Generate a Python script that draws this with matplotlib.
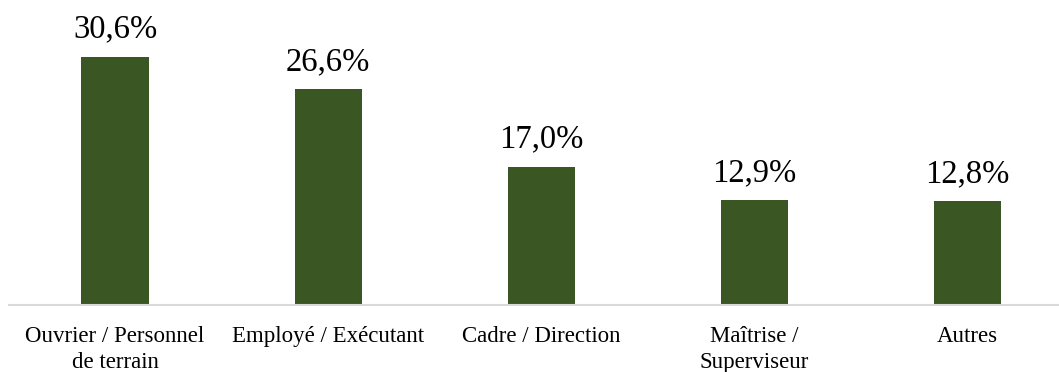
import matplotlib.pyplot as plt

categories = ["Ouvrier / Personnel\nde terrain", "Employé / Exécutant", "Cadre / Direction",
              "Maîtrise /\nSuperviseur", "Autres"]
values = [30.6, 26.6, 17.0, 12.9, 12.8]

plt.rcParams['font.family'] = ['Liberation Serif', 'DejaVu Serif']

fig = plt.figure(figsize=(10.59, 3.72), dpi=100)
ax = fig.add_axes([8.5 / 1059, 0.180, 1 - 8.5 / 1059, 0.7626])

x = range(len(values))
bars = ax.bar(x, values, width=0.315, color='#3A5723')
for b, v in zip(bars, values):
    ax.annotate(f"{v:.1f}%".replace('.', ','), (b.get_x() + b.get_width() / 2, v),
                xytext=(0, 9), textcoords='offset points', ha='center', va='bottom',
                fontsize=23.5)

ax.set_xlim(-0.5, 4.43)
ax.set_ylim(0, 35)
ax.set_xticks(list(x))
ax.set_xticklabels(categories, fontsize=16.5, linespacing=1.35)
ax.tick_params(axis='x', length=0, pad=15)
ax.set_yticks([])
for s in ['top', 'right', 'left']:
    ax.spines[s].set_visible(False)
ax.spines['bottom'].set_color('#D9D9D9')
ax.spines['bottom'].set_linewidth(1.5)

fig.savefig('out.png', dpi=100)
